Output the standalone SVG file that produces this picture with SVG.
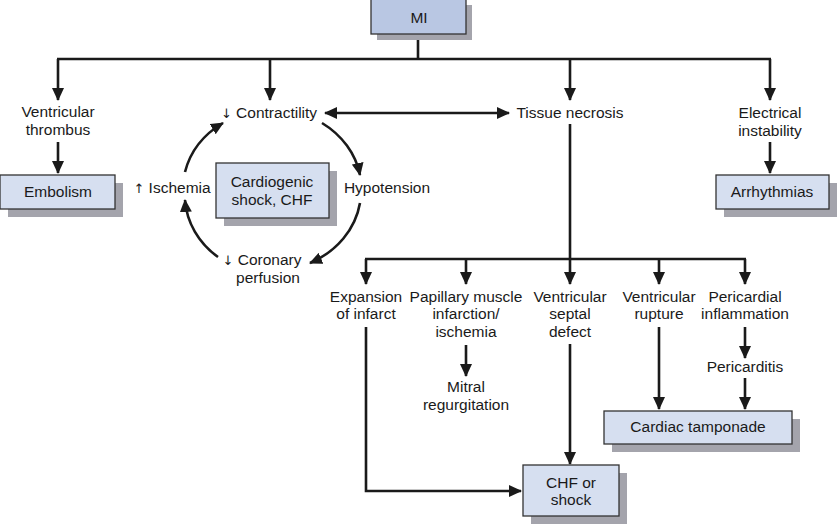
<svg xmlns="http://www.w3.org/2000/svg" width="838" height="524" viewBox="0 0 838 524">
<defs>
<marker id="ah" markerUnits="userSpaceOnUse" markerWidth="13" markerHeight="12" refX="12" refY="6" orient="auto-start-reverse" viewBox="0 0 13 12">
<path d="M0,0 L13,6 L0,12 z" fill="#1a1a1a"/>
</marker>
</defs>
<style>
.box{fill:#d6dff0;stroke:#333;stroke-width:1.3}
.mi{fill:#b9c7e3;stroke:#333;stroke-width:1.3}
.sh{fill:#a4a4ac}
text{font-family:"Liberation Sans",Arial,sans-serif;font-size:15.5px;fill:#1a1a1a;text-anchor:middle}
.ar{font-family:"DejaVu Sans",sans-serif;font-size:13px;fill:#1a1a1a}
.c{fill:none;stroke:#1a1a1a;stroke-width:2.6}
.a{marker-end:url(#ah)}
</style>
<rect width="838" height="524" fill="#fff"/>
<g id="connectors">
<path class="c" d="M418,35 V59"/>
<path class="c" d="M57,59 H771"/>
<path class="c a" d="M58,59 V100"/>
<path class="c a" d="M270,59 V100"/>
<path class="c a" d="M570,59 V100"/>
<path class="c a" d="M770,59 V100"/>
<path class="c a" d="M58,142 V173"/>
<path class="c a" d="M770,142 V173"/>
<path class="c a" d="M325,113 H509" marker-start="url(#ah)"/>
<path class="c" d="M570,124 V259"/>
<path class="c" d="M365,259 H746"/>
<path class="c a" d="M366,259 V284"/>
<path class="c a" d="M466,259 V284"/>
<path class="c a" d="M570,259 V284"/>
<path class="c a" d="M659,259 V284"/>
<path class="c a" d="M745,259 V284"/>
<path class="c a" d="M466,345 V376"/>
<path class="c a" d="M366,327 V491 H521"/>
<path class="c a" d="M570,344 V464"/>
<path class="c a" d="M659,327 V409"/>
<path class="c a" d="M745,327 V358"/>
<path class="c a" d="M745,378 V409"/>
<path class="c a" d="M322,123 A90,80 0 0 1 360,175"/>
<path class="c a" d="M360,203 A90,80 0 0 1 310,263"/>
<path class="c a" d="M218,257 A90,80 0 0 1 185,200"/>
<path class="c a" d="M185,172 A90,80 0 0 1 223,123"/>
</g>
<g id="mi">
<rect class="sh" x="377" y="5" width="95" height="35"/>
<rect class="mi" x="371" y="-1" width="95" height="35"/>
<text x="419" y="23" font-size="17">MI</text>
</g>
<g id="ventricular-thrombus"><text x="58" y="117">Ventricular</text><text x="58" y="135">thrombus</text></g>
<g id="embolism">
<rect class="sh" x="8" y="183" width="115" height="34"/>
<rect class="box" x="0" y="175" width="115" height="34"/>
<text x="58" y="197">Embolism</text>
</g>
<g id="contractility"><text x="269" y="118"><tspan class="ar">↓</tspan> Contractility</text></g>
<g id="tissue-necrosis"><text x="570" y="118">Tissue necrosis</text></g>
<g id="electrical-instability"><text x="770" y="118">Electrical</text><text x="770" y="136">instability</text></g>
<g id="arrhythmias">
<rect class="sh" x="724" y="183" width="113" height="34"/>
<rect class="box" x="716" y="175" width="113" height="34"/>
<text x="772" y="197">Arrhythmias</text>
</g>
<g id="ischemia"><text x="172" y="193"><tspan class="ar">↑</tspan> Ischemia</text></g>
<g id="hypotension"><text x="387" y="193">Hypotension</text></g>
<g id="cardiogenic-shock">
<rect class="sh" x="224" y="171" width="113" height="55"/>
<rect class="box" x="216" y="163" width="113" height="55"/>
<text x="272" y="187">Cardiogenic</text><text x="272" y="205">shock, CHF</text>
</g>
<g id="coronary-perfusion"><text x="262" y="265"><tspan class="ar">↓</tspan> Coronary</text><text x="268" y="283">perfusion</text></g>
<g id="expansion"><text x="366" y="302">Expansion</text><text x="366" y="319">of infarct</text></g>
<g id="papillary"><text x="466" y="302">Papillary muscle</text><text x="466" y="319">infarction/</text><text x="466" y="337">ischemia</text></g>
<g id="vsd"><text x="570" y="302">Ventricular</text><text x="570" y="319">septal</text><text x="570" y="337">defect</text></g>
<g id="rupture"><text x="659" y="302">Ventricular</text><text x="659" y="319">rupture</text></g>
<g id="pericardial"><text x="745" y="302">Pericardial</text><text x="745" y="319">inflammation</text></g>
<g id="mitral"><text x="466" y="392">Mitral</text><text x="466" y="410">regurgitation</text></g>
<g id="pericarditis"><text x="745" y="372">Pericarditis</text></g>
<g id="tamponade">
<rect class="sh" x="612" y="419" width="188" height="33"/>
<rect class="box" x="604" y="411" width="188" height="33"/>
<text x="698" y="432">Cardiac tamponade</text>
</g>
<g id="chf-shock">
<rect class="sh" x="531" y="473" width="96" height="51"/>
<rect class="box" x="523" y="465" width="96" height="51"/>
<text x="571" y="488">CHF or</text><text x="571" y="505">shock</text>
</g>
</svg>
